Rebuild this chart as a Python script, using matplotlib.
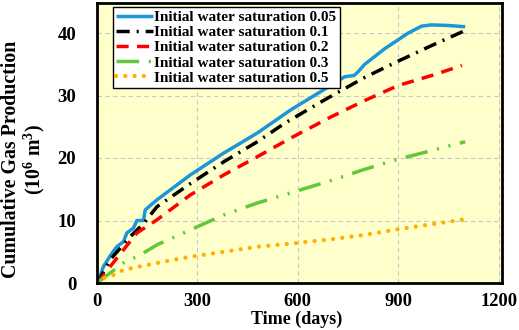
import matplotlib
matplotlib.use("Agg")
import matplotlib.pyplot as plt
import numpy as np

plt.rcParams['font.family'] = ['Liberation Serif', 'DejaVu Serif']
plt.rcParams['font.weight'] = 'bold'
plt.rcParams['mathtext.fontset'] = 'custom'
plt.rcParams['mathtext.rm'] = 'Liberation Serif:bold'
plt.rcParams['mathtext.it'] = 'Liberation Serif:bold'

labels = ["Initial water saturation 0.05", "Initial water saturation 0.1",
          "Initial water saturation 0.2", "Initial water saturation 0.3",
          "Initial water saturation 0.5"]

t_005 = [0, 5, 19, 40, 59, 79, 89, 109, 119, 139, 144, 179, 279, 379, 479, 579, 680, 740, 768, 780, 800, 860, 930, 970, 1000, 1050, 1100]
g_005 = [0, 0.5, 2.6, 4.4, 5.8, 6.6, 8.0, 8.8, 10.0, 10.0, 11.7, 13.3, 17.3, 20.8, 24.0, 27.7, 31.0, 33.0, 33.2, 33.8, 35.0, 37.5, 40.0, 41.1, 41.3, 41.2, 41.0]

t_01 = [0, 10, 39, 99, 139, 179, 279, 379, 479, 559, 680, 800, 900, 1000, 1100]
g_01 = [0, 0.8, 3.7, 7.4, 9.5, 12.2, 15.9, 19.4, 22.6, 25.5, 29.3, 32.9, 35.5, 38.0, 40.4]

t_02 = [0, 10, 39, 119, 179, 279, 379, 479, 579, 700, 800, 900, 1000, 1090]
g_02 = [0, 0.6, 2.6, 8.0, 10.1, 14.1, 17.3, 20.2, 23.2, 26.6, 29.2, 31.6, 33.2, 34.8]

t_03 = [0, 15, 39, 79, 129, 179, 279, 379, 479, 559, 700, 800, 900, 1000, 1100]
g_03 = [0, 0.6, 1.6, 3.2, 4.5, 6.1, 8.5, 10.9, 12.8, 14.1, 16.4, 18.2, 19.8, 21.2, 22.6]

t_05 = [0, 19, 49, 79, 179, 279, 379, 479, 579, 700, 800, 900, 1000, 1100]
g_05 = [0, 0.8, 1.3, 2.1, 3.2, 4.2, 5.0, 5.8, 6.3, 7.0, 7.7, 8.6, 9.4, 10.2]

fig = plt.figure(figsize=(5.19, 3.30), dpi=100)
ax = fig.add_axes([97/519, (330-283)/330, (502-97)/519, (283-3)/330])
ax.set_facecolor('#FFFFCC')

ax.plot(t_005, g_005, color='#1B96D8', lw=2.5, label=labels[0], solid_capstyle='butt')
ax.plot(t_01, g_01, color='black', lw=2.5, dashes=(3.8, 2.0, 0.6, 2.0), label=labels[1])
ax.plot(t_02, g_02, color='#FF0000', lw=2.5, dashes=(3.5, 2.4), label=labels[2])
ax.plot(t_03, g_03, color='#62C83A', lw=2.5, dashes=(6.5, 2.8, 0.6, 2.8, 0.6, 2.8), label=labels[3])
ax.plot(t_05, g_05, color='#FFB000', lw=3.1, dashes=(0.01, 2.15), dash_capstyle='round', label=labels[4])

ax.set_xlim(0, 1210)
ax.set_ylim(0, 44.8)
ax.set_xticks([0, 300, 600, 900, 1200])
ax.set_yticks([0, 10, 20, 30, 40])
ax.grid(True, color='#C8C8C8', linestyle=(0, (4, 3)), lw=0.8)
ax.set_axisbelow(True)
for s in ax.spines.values():
    s.set_linewidth(2)
    s.set_color('black')
ax.tick_params(axis='x', labelsize=13.3, length=0, pad=7)
ax.tick_params(axis='y', labelsize=13.5, length=0, pad=15)
for lab in ax.get_xticklabels() + ax.get_yticklabels():
    lab.set_fontweight('bold')

ax.set_xlabel('Time (days)', fontsize=13, fontweight='bold')
ax.xaxis.set_label_coords(0.494, -0.098)
ax.set_ylabel('Cumulative Gas Production\n(10$^6$ m$^3$)', fontsize=14.3, fontweight='bold', linespacing=1.0)
ax.yaxis.set_label_coords(-0.18, 0.44)
ax.yaxis.label.set_va('center')

leg = ax.legend(loc='upper left', bbox_to_anchor=(0.04, 0.985), fontsize=11,
                frameon=True, fancybox=False, edgecolor='black', framealpha=1,
                handlelength=2.4, handletextpad=0.1, borderpad=0.2, labelspacing=0.1,
                borderaxespad=0)
leg.get_frame().set_linewidth(1.0)
for txt in leg.get_texts():
    txt.set_fontweight('bold')

fig.savefig('out.png', dpi=100)
